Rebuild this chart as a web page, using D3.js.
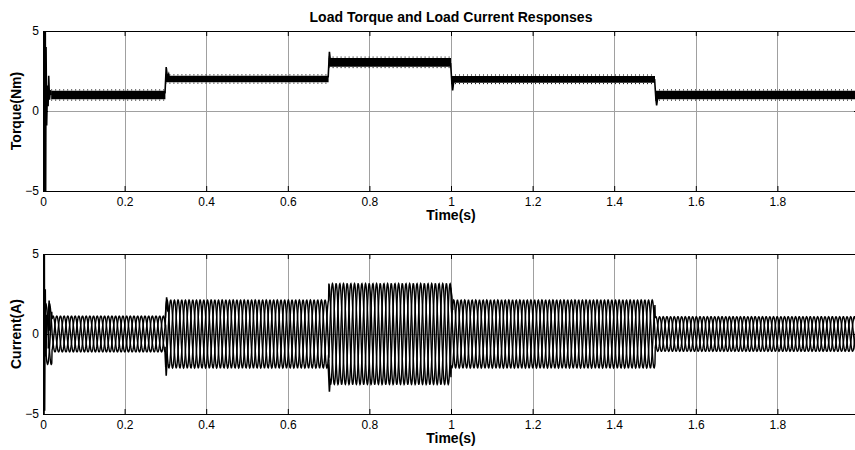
<!DOCTYPE html>
<html>
<head>
<meta charset="utf-8">
<script src="https://cdn.jsdelivr.net/npm/d3@7"></script>
<style>
body { margin: 0; background: #fff; }
text { font-family: Arial, "Liberation Sans", sans-serif; }
.grid line { stroke: #a0a0a0; stroke-width: 1; }
.axis path, .axis line { stroke: #000; }
.axis text { font-size: 12px; fill: #000; }
</style>
</head>
<body>
<div id="chart"></div>
<script>
// Torque: load steps (s) and the level / ripple half-width in each interval
const stepTimes = [0.02, 0.3, 0.7, 1.0, 1.5, 2.0];
const torqueLevels = [1.0, 2.0, 3.04, 1.98, 1.0];
const torqueRipple = [0.26, 0.2, 0.27, 0.21, 0.26];

// Current: phase amplitude in each interval
const currentTimes = [0.006, 0.022, 0.3, 0.7, 1.0, 1.5, 2.0];
const currentAmps = [1.9, 1.12, 2.12, 3.15, 2.12, 1.08];
const supplyFreq = 37; // Hz
const phaseShifts = [0, -120, 120]; // degrees

// transients, [t, value]
const torqueTransients = [
    [[0, 0], [0.0008, 6], [0.0016, -6], [0.0024, 6], [0.0032, -6], [0.004, 6], [0.0048, -6],
     [0.0056, 6], [0.0064, -6], [0.0075, 4], [0.009, -0.9],
     [0.011, 1.6], [0.0125, 0.3], [0.014, 2.2], [0.016, 0.7], [0.018, 1.3], [0.02, 1]],
    [[0.299, 1.1], [0.302, 2.75], [0.305, 2.1], [0.308, 2.3], [0.31, 2]],
    [[0.699, 2.1], [0.702, 3.7], [0.705, 3.0], [0.708, 3.2], [0.71, 3.05]],
    [[0.999, 3.0], [1.002, 1.8], [1.004, 1.28], [1.007, 1.9], [1.01, 2]],
    [[1.499, 2.0], [1.502, 0.8], [1.504, 0.35], [1.507, 0.9], [1.51, 1]]
];
const currentTransients = [
    [[0, 0], [0.0008, -6], [0.0016, 6], [0.0024, -6], [0.0032, 6], [0.004, -4.8],
     [0.0055, 2.8], [0.007, -1.4], [0.009, 1.2]],
    [[0.013, -0.9], [0.015, 2.1], [0.017, 0.2]],
    [[0.299, -0.8], [0.302, -2.6], [0.304, -1.6]],
    [[0.3, 1.0], [0.303, 2.3], [0.306, 1.4]],
    [[0.699, -1.9], [0.702, -3.6], [0.704, -2.8]],
    [[0.999, 2.9], [1.002, 2.35], [1.004, 1.5]]
];

const xTicks = [0, 0.2, 0.4, 0.6, 0.8, 1, 1.2, 1.4, 1.6, 1.8];
const yTicks = [-5, 0, 5];

const width = 855;
const height = 450;
const svg = d3.select("#chart").append("svg")
    .attr("width", width)
    .attr("height", height);

const x = d3.scaleLinear().domain([0, 2]).range([43, 859]);
const xMid = (x.range()[0] + x.range()[1]) / 2;

function drawPanel(id, top, bottom, yLabel) {
    const y = d3.scaleLinear().domain([-5, 5]).range([bottom, top]);
    const g = svg.append("g");

    g.append("clipPath").attr("id", id)
        .append("rect")
        .attr("x", x(0)).attr("y", top)
        .attr("width", x(2) - x(0)).attr("height", bottom - top);

    // grid
    const grid = g.append("g").attr("class", "grid");
    grid.selectAll("line.v")
        .data(xTicks.slice(1))
        .join("line")
        .attr("x1", d => Math.round(x(d)) + 0.5).attr("x2", d => Math.round(x(d)) + 0.5)
        .attr("y1", top).attr("y2", bottom);
    grid.append("line")
        .attr("x1", x(0)).attr("x2", x(2))
        .attr("y1", Math.round(y(0)) + 0.5).attr("y2", Math.round(y(0)) + 0.5);

    // axes, MATLAB style with ticks pointing in
    g.append("g").attr("class", "axis")
        .attr("transform", `translate(0,${bottom})`)
        .call(d3.axisBottom(x).tickValues(xTicks).tickSizeInner(-5).tickSizeOuter(0).tickPadding(6)
            .tickFormat(d3.format("")));
    g.append("g").attr("class", "axis")
        .attr("transform", `translate(0,${top})`)
        .call(d3.axisTop(x).tickValues(xTicks).tickSizeInner(-5).tickSizeOuter(0).tickFormat(""));
    g.append("g").attr("class", "axis")
        .attr("transform", `translate(${x(0)},0)`)
        .call(d3.axisLeft(y).tickValues(yTicks).tickSizeInner(-5).tickSizeOuter(0).tickPadding(4));
    g.append("g").attr("class", "axis")
        .attr("transform", `translate(${x(2)},0)`)
        .call(d3.axisRight(y).tickValues(yTicks).tickSizeInner(-5).tickSizeOuter(0).tickFormat(""));

    g.append("text")
        .attr("x", xMid).attr("y", bottom + 29)
        .attr("text-anchor", "middle")
        .style("font-size", "14px").style("font-weight", "bold")
        .text("Time(s)");

    g.append("text")
        .attr("transform", `translate(21,${(top + bottom) / 2}) rotate(-90)`)
        .attr("text-anchor", "middle")
        .style("font-size", "14px").style("font-weight", "bold")
        .text(yLabel);

    const plot = g.append("g").attr("clip-path", `url(#${id})`);
    return { y, plot };
}

const torquePanel = drawPanel("clipT", 31, 191, "Torque(Nm)");
const currentPanel = drawPanel("clipC", 254, 414, "Current(A)");

svg.append("text")
    .attr("x", xMid).attr("y", 22)
    .attr("text-anchor", "middle")
    .style("font-size", "14px").style("font-weight", "bold")
    .text("Load Torque and Load Current Responses");

// Torque
{
    const { y, plot } = torquePanel;
    const segs = torqueLevels.map((v, i) => ({
        t0: stepTimes[i], t1: stepTimes[i + 1], v, r: torqueRipple[i]
    }));
    const area = d3.area()
        .x(d => x(d[0]))
        .y0(d => y(d[1] - d[2]))
        .y1(d => y(d[1] + d[2]));
    plot.selectAll("path.band")
        .data(segs)
        .join("path")
        .attr("class", "band")
        .attr("fill", "#000")
        .attr("d", s => area([[s.t0, s.v, s.r], [s.t1, s.v, s.r]]));

    // ripple peaks along the band edges
    const edge = d3.line().x(d => x(d[0])).y(d => y(d[1]));
    plot.selectAll("path.edge")
        .data(segs.flatMap(s => [[[s.t0, s.v + s.r + 0.06], [s.t1, s.v + s.r + 0.06]],
                                 [[s.t0, s.v - s.r - 0.06], [s.t1, s.v - s.r - 0.06]]]))
        .join("path")
        .attr("class", "edge")
        .attr("fill", "none")
        .attr("stroke", "#000")
        .attr("stroke-width", 1)
        .attr("stroke-dasharray", "1,3")
        .attr("d", edge);

    plot.selectAll("path.tr")
        .data(torqueTransients)
        .join("path")
        .attr("class", "tr")
        .attr("fill", "none")
        .attr("stroke", "#000")
        .attr("stroke-width", 1.6)
        .attr("d", edge);
}

// Current
{
    const { y, plot } = currentPanel;
    const line = d3.line().x(d => x(d[0])).y(d => y(d[1]));
    const dt = 1 / (supplyFreq * 40);
    const times = d3.range(currentTimes[0], 2 + dt, dt);
    const ampAt = t => currentAmps[Math.min(d3.bisectRight(currentTimes, t) - 1, currentAmps.length - 1)];
    const phases = phaseShifts.map(sh =>
        times.map(t => [t, ampAt(t) * Math.sin(2 * Math.PI * supplyFreq * t + sh * Math.PI / 180)]));

    plot.selectAll("path.phase")
        .data(phases)
        .join("path")
        .attr("class", "phase")
        .attr("fill", "none")
        .attr("stroke", "#000")
        .attr("stroke-width", 1.4)
        .attr("d", line);

    plot.selectAll("path.tr")
        .data(currentTransients)
        .join("path")
        .attr("class", "tr")
        .attr("fill", "none")
        .attr("stroke", "#000")
        .attr("stroke-width", 1.6)
        .attr("d", line);
}
</script>
</body>
</html>
